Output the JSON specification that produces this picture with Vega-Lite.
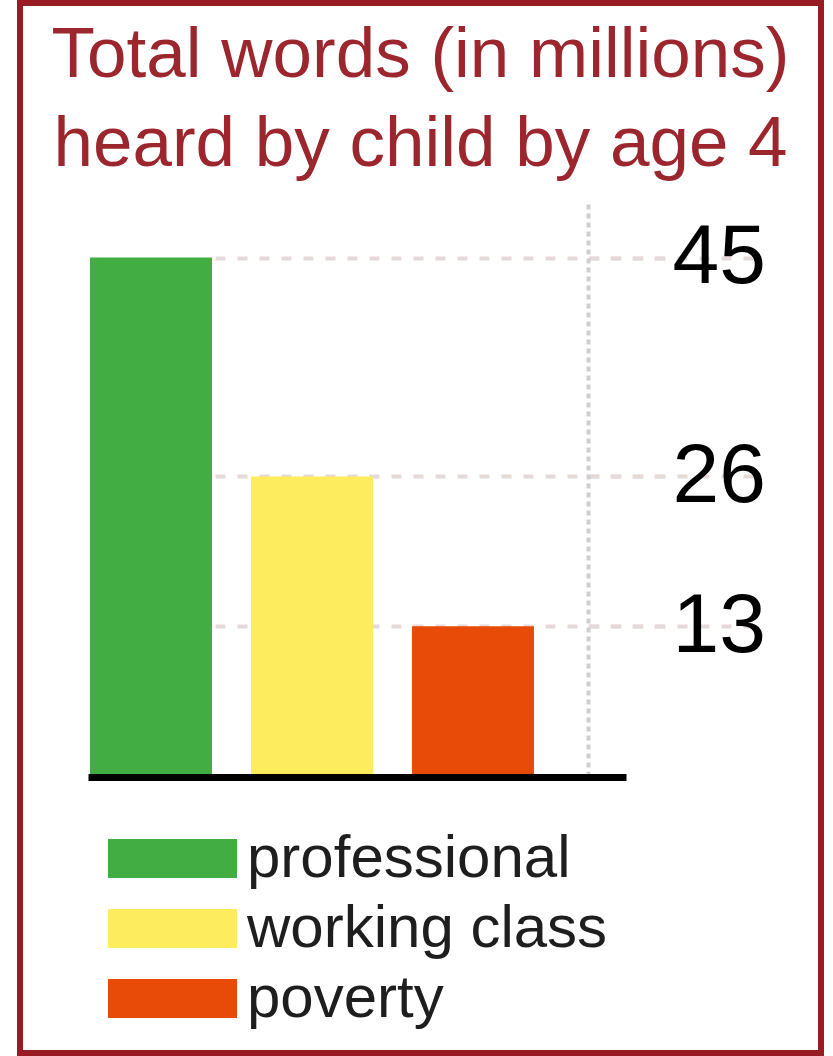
{
  "$schema": "https://vega.github.io/schema/vega-lite/v6.json",
  "width": 801,
  "height": 1050,
  "autosize": "none",
  "padding": {"left": 20, "top": 3, "right": 12, "bottom": 3},
  "background": "white",
  "title": {
    "text": ["Total words (in millions)", "heard by child by age 4"],
    "font": "Liberation Sans",
    "fontSize": 71,
    "fontWeight": "normal",
    "color": "#9c262d",
    "anchor": "middle",
    "frame": "group",
    "lineHeight": 89,
    "baseline": "top",
    "offset": -178
  },
  "data": {
    "values": [
      {"group": "professional", "words": 45},
      {"group": "working class", "words": 26},
      {"group": "poverty", "words": 13}
    ]
  },
  "mark": {"type": "bar"},
  "encoding": {
    "x": {
      "field": "group",
      "type": "nominal",
      "sort": ["professional", "working class", "poverty"],
      "scale": {"range": [68, 606], "paddingInner": 0.242, "paddingOuter": 0.292, "align": 0.021},
      "axis": {
        "orient": "bottom",
        "offset": -276,
        "labels": false,
        "ticks": false,
        "title": null,
        "grid": false,
        "domainColor": "#000000",
        "domainWidth": 7,
        "zindex": 1
      }
    },
    "y": {
      "field": "words",
      "type": "quantitative",
      "scale": {"domain": [0, 50], "range": [773, 197], "nice": false, "zero": true},
      "axis": {
        "orient": "right",
        "offset": -233,
        "values": [13, 26, 45],
        "title": null,
        "grid": true,
        "gridColor": "#e5d9d9",
        "gridDash": [10, 12],
        "gridWidth": 4,
        "domainColor": "#cfcfcf",
        "domainDash": [5, 4],
        "domainWidth": 4,
        "tickColor": "#e5d9d9",
        "tickDash": [10, 12],
        "tickWidth": 4,
        "tickSize": 80,
        "labelPadding": 4,
        "labelFont": "Liberation Sans",
        "labelFontSize": 84,
        "labelColor": "#000000",
        "labelBaseline": "middle",
        "labelAlign": "left",
        "zindex": 0
      }
    },
    "color": {
      "field": "group",
      "type": "nominal",
      "scale": {
        "domain": ["professional", "working class", "poverty"],
        "range": ["#41ad42", "#fdec5d", "#e84b07"]
      },
      "legend": {
        "orient": "none",
        "legendX": 88,
        "legendY": 836,
        "direction": "vertical",
        "title": null,
        "symbolType": "M-1,-0.3023L1,-0.3023L1,0.3023L-1,0.3023Z",
        "symbolSize": 16641,
        "symbolStrokeWidth": 0,
        "symbolOpacity": 1,
        "clipHeight": 39,
        "labelFont": "Liberation Sans",
        "labelFontSize": 60,
        "labelColor": "#1e1e1e",
        "labelOffset": 10,
        "labelLimit": 600,
        "rowPadding": 9,
        "padding": 0
      }
    }
  },
  "config": {"view": {"stroke": "#981c24", "strokeWidth": 6, "fill": "white"}}
}
